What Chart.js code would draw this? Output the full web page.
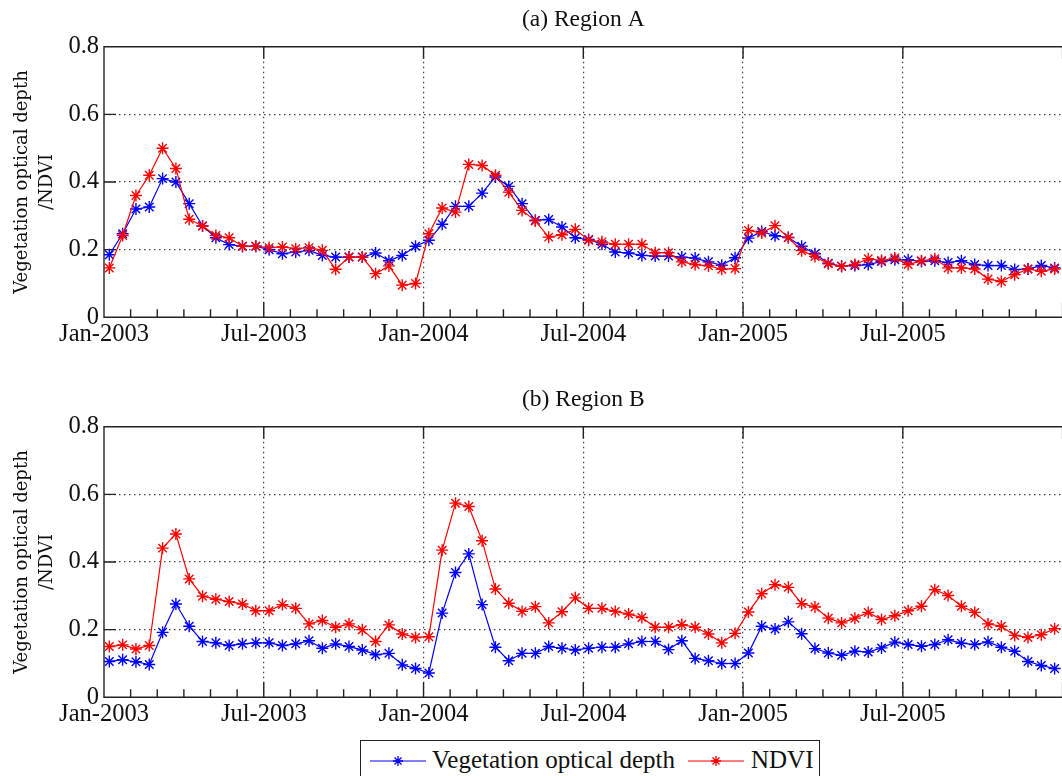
<!DOCTYPE html>
<html>
<head>
<meta charset="utf-8">
<script src="https://cdn.jsdelivr.net/npm/chart.js@4/dist/chart.umd.min.js"></script>
<style>
    html, body { margin: 0; padding: 0; background: #fff; overflow: hidden; }
    body { width: 1062px; height: 776px; position: relative; }
    canvas { position: absolute; left: 0; }
    #chartA { top: 0; }
    #chartB { top: 380px; }
    #legend {
        position: absolute; left: 360px; top: 740px; width: 458px; height: 50px;
        border: 1.5px solid #222; background: #fff;
        font-family: "Liberation Serif", serif; font-size: 25px; color: #111;
    }
    #legend svg, #legend span { position: absolute; }
    #legend span { top: 5px; white-space: nowrap; }
</style>
</head>
<body>
<canvas id="chartA" width="1070" height="360"></canvas>
<canvas id="chartB" width="1070" height="360"></canvas>
<div id="legend">
    <svg style="left:9px;top:9px" width="56" height="22">
        <line x1="0" y1="11" x2="56" y2="11" stroke="#0000ff" stroke-width="1.2"/>
        <path d="M28 6V16M23 11H33M24.5 7.5L31.5 14.5M31.5 7.5L24.5 14.5" stroke="#0000ff" stroke-width="1.3"/>
    </svg>
    <span style="left:71px">Vegetation optical depth</span>
    <svg style="left:327px;top:9px" width="56" height="22">
        <line x1="0" y1="11" x2="56" y2="11" stroke="#ff0000" stroke-width="1.2"/>
        <path d="M28 6V16M23 11H33M24.5 7.5L31.5 14.5M31.5 7.5L24.5 14.5" stroke="#ff0000" stroke-width="1.3"/>
    </svg>
    <span style="left:390px">NDVI</span>
</div>
<script>
// half-monthly values, Jan-2003 .. Dec-2005 (24 per year)
const vodA = [
    0.185, 0.247, 0.320, 0.326, 0.410, 0.400, 0.336, 0.270, 0.235, 0.215, 0.210, 0.210,
    0.200, 0.188, 0.193, 0.198, 0.183, 0.178, 0.178, 0.178, 0.190, 0.167, 0.183, 0.210,
    0.228, 0.275, 0.328, 0.328, 0.367, 0.415, 0.387, 0.336, 0.287, 0.289, 0.267, 0.235,
    0.230, 0.216, 0.193, 0.190, 0.183, 0.181, 0.181, 0.178, 0.175, 0.164, 0.154, 0.176,
    0.234, 0.254, 0.241, 0.236, 0.210, 0.188, 0.160, 0.151, 0.153, 0.156, 0.165, 0.170,
    0.170, 0.165, 0.167, 0.162, 0.167, 0.156, 0.153, 0.153, 0.141, 0.143, 0.153, 0.146
];
const ndviA = [
    0.146, 0.242, 0.360, 0.420, 0.500, 0.440, 0.290, 0.270, 0.242, 0.235, 0.210, 0.210,
    0.206, 0.208, 0.203, 0.206, 0.198, 0.142, 0.178, 0.178, 0.129, 0.152, 0.095, 0.100,
    0.247, 0.323, 0.311, 0.452, 0.449, 0.420, 0.370, 0.316, 0.285, 0.237, 0.244, 0.260,
    0.228, 0.223, 0.216, 0.216, 0.216, 0.191, 0.191, 0.164, 0.156, 0.152, 0.142, 0.144,
    0.257, 0.249, 0.271, 0.236, 0.197, 0.180, 0.158, 0.151, 0.156, 0.173, 0.168, 0.175,
    0.156, 0.167, 0.173, 0.146, 0.146, 0.143, 0.113, 0.106, 0.126, 0.143, 0.136, 0.143
];
const vodB = [
    0.106, 0.111, 0.105, 0.097, 0.192, 0.276, 0.210, 0.165, 0.161, 0.153, 0.158, 0.161,
    0.161, 0.153, 0.158, 0.167, 0.145, 0.158, 0.150, 0.140, 0.126, 0.130, 0.096, 0.085,
    0.072, 0.249, 0.369, 0.424, 0.274, 0.148, 0.108, 0.130, 0.130, 0.150, 0.145, 0.140,
    0.145, 0.148, 0.148, 0.158, 0.165, 0.165, 0.141, 0.167, 0.115, 0.108, 0.100, 0.100,
    0.131, 0.210, 0.202, 0.223, 0.188, 0.144, 0.131, 0.124, 0.136, 0.134, 0.146, 0.163,
    0.156, 0.151, 0.156, 0.170, 0.160, 0.156, 0.164, 0.148, 0.136, 0.106, 0.094, 0.085
];
const ndviB = [
    0.150, 0.155, 0.143, 0.153, 0.441, 0.483, 0.350, 0.299, 0.290, 0.283, 0.276, 0.256,
    0.256, 0.274, 0.263, 0.217, 0.227, 0.207, 0.217, 0.200, 0.165, 0.214, 0.187, 0.177,
    0.179, 0.435, 0.574, 0.564, 0.463, 0.320, 0.278, 0.254, 0.268, 0.220, 0.253, 0.294,
    0.263, 0.263, 0.254, 0.246, 0.236, 0.207, 0.207, 0.215, 0.207, 0.187, 0.161, 0.189,
    0.252, 0.306, 0.333, 0.325, 0.277, 0.267, 0.234, 0.220, 0.234, 0.251, 0.230, 0.241,
    0.256, 0.269, 0.318, 0.301, 0.269, 0.251, 0.217, 0.210, 0.183, 0.177, 0.185, 0.203
];

// x axis is months since Jan-2003, ticks every 6 months
const xLabels = ["Jan-2003", "Jul-2003", "Jan-2004", "Jul-2004", "Jan-2005", "Jul-2005"];
const yTicks = [0, 0.2, 0.4, 0.6, 0.8];

// each composite sits a bit after the start of its half month
const months = vodA.map((v, i) => i / 2 + 0.2);

const serif = "Liberation Serif";

// MATLAB style box with inward ticks
const frameTicks = {
    id: "frameTicks",
    beforeDatasetsDraw(chart) {
        const { ctx, chartArea: a, scales: { x, y } } = chart;
        ctx.save();
        ctx.strokeStyle = "#222";
        ctx.lineWidth = 1.4;
        ctx.beginPath();
        ctx.moveTo(a.right + 4, a.top);
        ctx.lineTo(a.left, a.top);
        ctx.lineTo(a.left, a.bottom);
        ctx.lineTo(a.right + 4, a.bottom);
        for (let m = 1; m <= 36; m++) {
            const px = x.getPixelForValue(m);
            const major = m % 6 === 0;
            ctx.moveTo(px, a.bottom);
            ctx.lineTo(px, a.bottom - (major ? 15 : 8));
            if (major) {
                ctx.moveTo(px, a.top);
                ctx.lineTo(px, a.top + 12);
            }
        }
        yTicks.slice(1, -1).forEach(v => {
            const py = y.getPixelForValue(v);
            ctx.moveTo(a.left, py);
            ctx.lineTo(a.left + 12, py);
        });
        ctx.stroke();
        ctx.restore();
    }
};

function series(label, values, color) {
    return {
        label: label,
        data: values.map((v, i) => ({ x: months[i], y: v })),
        borderColor: color,
        borderWidth: 1.2,
        pointStyle: "star",
        pointRadius: 6,
        pointBorderColor: color,
        pointBorderWidth: 1.4,
        pointBackgroundColor: color,
        tension: 0
    };
}

function makePanel(id, title, vod, ndvi) {
    return new Chart(document.getElementById(id), {
        type: "line",
        data: {
            datasets: [
                series("NDVI", ndvi, "#ff0000"),
                series("Vegetation optical depth", vod, "#0000ff")
            ]
        },
        plugins: [frameTicks],
        options: {
            responsive: false,
            animation: false,
            layout: { padding: { left: 0, right: 6.5, top: 0, bottom: 0 } },
            scales: {
                x: {
                    type: "linear",
                    min: 0,
                    max: 36,
                    afterFit: scale => { scale.height = 42.7; },
                    ticks: {
                        stepSize: 6,
                        autoSkip: false,
                        maxRotation: 0,
                        padding: 3,
                        color: "#111",
                        font: { family: serif, size: 24.5 },
                        callback: v => xLabels[v / 6] || ""
                    },
                    grid: {
                        drawTicks: false,
                        lineWidth: 1.2,
                        color: c => (c.tick && c.tick.value > 0 && c.tick.value < 36) ? "#444" : "transparent"
                    },
                    border: { display: false, dash: [1.5, 3.5] }
                },
                y: {
                    min: 0,
                    max: 0.8,
                    afterFit: scale => { scale.width = 104; },
                    ticks: {
                        stepSize: 0.2,
                        padding: 5,
                        color: "#111",
                        font: { family: serif, size: 24.5 },
                        callback: v => v === 0 ? "0" : v.toFixed(1)
                    },
                    grid: {
                        drawTicks: false,
                        lineWidth: 1.2,
                        color: c => (c.tick && c.tick.value > 0.01 && c.tick.value < 0.79) ? "#444" : "transparent"
                    },
                    border: { display: false, dash: [1.5, 3.5] },
                    title: {
                        display: true,
                        text: ["Vegetation optical depth", "/NDVI"],
                        color: "#111",
                        font: { family: "DejaVu Serif", size: 18, lineHeight: 1.4 },
                        padding: { top: 9.4, bottom: 0 }
                    }
                }
            },
            plugins: {
                legend: { display: false },
                tooltip: { enabled: false },
                title: {
                    display: true,
                    text: title,
                    fullSize: false,
                    color: "#111",
                    font: { family: serif, size: 23.5, weight: "normal" },
                    padding: { top: 6, bottom: 12.5 }
                }
            }
        }
    });
}

makePanel("chartA", "(a) Region A", vodA, ndviA);
makePanel("chartB", "(b) Region B", vodB, ndviB);
</script>
</body>
</html>
